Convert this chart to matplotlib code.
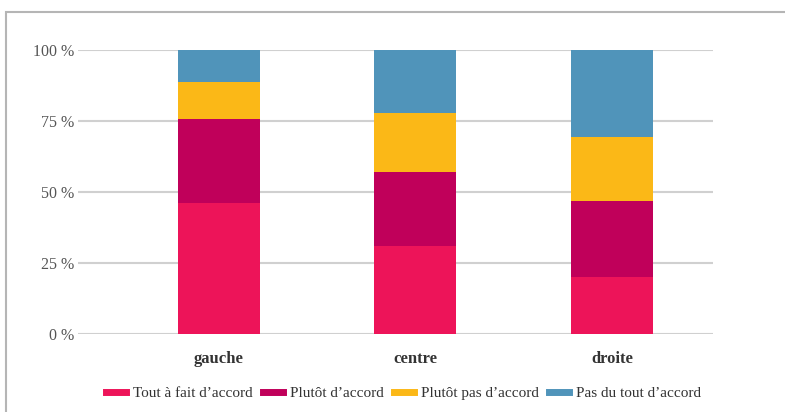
import numpy as np
import matplotlib
matplotlib.use("Agg")
import matplotlib.pyplot as plt
from matplotlib.lines import Line2D
from matplotlib.patches import Rectangle

categories = ["gauche", "centre", "droite"]
tout_a_fait = [46.1, 31.0, 20.1]
plutot_accord = [29.6, 26.0, 26.7]
plutot_pas = [13.0, 20.8, 22.6]
pas_du_tout = [11.3, 22.2, 30.6]
series_labels = ["Tout à fait d’accord", "Plutôt d’accord", "Plutôt pas d’accord", "Pas du tout d’accord"]
colors = ["#ED1459", "#C0005A", "#FBB817", "#5094BA"]
yticks = [0, 25, 50, 75, 100]

plt.rcParams['font.family'] = ['Liberation Serif', 'DejaVu Serif']

fig = plt.figure(figsize=(7.85, 4.12), dpi=100)
ax = fig.add_axes([78 / 785, 78 / 412, 635 / 785, 284 / 412])

# outer frame
fig.patches.append(Rectangle((6 / 785, -0.1), 1.2, 1 - 12 / 412 + 0.1,
                             transform=fig.transFigure, fill=False,
                             edgecolor="#b5b5b5", lw=1.5))

x = np.arange(len(categories))
bottom = np.zeros(len(categories))
for vals, c in zip([tout_a_fait, plutot_accord, plutot_pas, pas_du_tout], colors):
    ax.bar(x, vals, width=0.417, bottom=bottom, color=c, zorder=2)
    bottom += np.array(vals)

ax.set_xlim(-0.717, 2.514)
ax.set_ylim(0, 100)
ax.set_yticks(yticks)
ax.set_yticklabels([f"{t} %" for t in yticks], fontsize=11.5, color="#555555")
ax.set_xticks(x)
ax.set_xticklabels(categories, fontsize=12, fontweight="bold", color="#333333")
ax.tick_params(axis="y", length=0, pad=3)
ax.tick_params(axis="x", length=0, pad=12)
ax.grid(axis="y", color="#d0d0d0", lw=1.5, zorder=0)
ax.set_axisbelow(True)
for s in ax.spines.values():
    s.set_visible(False)

handles = [Line2D([0], [0], color=c, lw=5) for c in colors]
fig.legend(handles, series_labels, loc="center", bbox_to_anchor=(0.514, 0.046),
           ncol=4, frameon=False, fontsize=11, handlelength=1.3,
           handletextpad=0.45, columnspacing=0.7, labelcolor="#333333")

fig.savefig("out.png", dpi=100)
